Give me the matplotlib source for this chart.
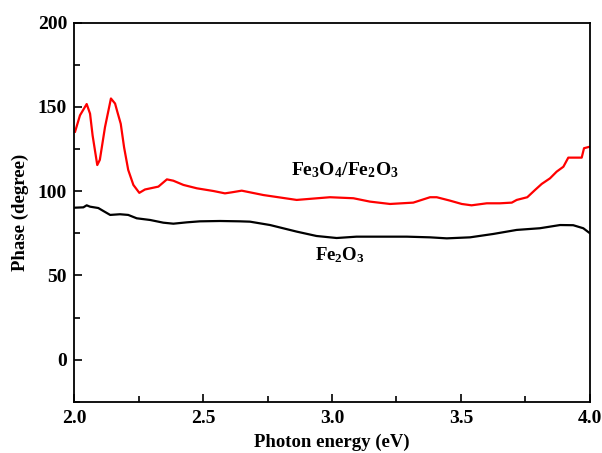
import matplotlib
matplotlib.use("Agg")
import matplotlib.pyplot as plt

plt.rcParams['font.family'] = ['Liberation Serif', 'DejaVu Serif']
plt.rcParams['font.weight'] = 'bold'
plt.rcParams['mathtext.fontset'] = 'custom'
plt.rcParams['mathtext.rm'] = 'Liberation Serif:bold'

# Fe3O4/Fe2O3 (red)
x_comp = [2.004, 2.023, 2.049, 2.062, 2.072, 2.09, 2.10, 2.12, 2.143, 2.159,
          2.168, 2.181, 2.194, 2.21, 2.23, 2.253, 2.275, 2.327, 2.36, 2.385,
          2.424, 2.476, 2.54, 2.585, 2.611, 2.65, 2.734, 2.863, 2.992, 3.083,
          3.147, 3.225, 3.315, 3.38, 3.406, 3.457, 3.503, 3.541, 3.60, 3.651,
          3.697, 3.716, 3.757, 3.787, 3.813, 3.845, 3.871, 3.897, 3.916, 3.968,
          3.977, 4.0]
y_comp = [135.3, 145, 151.7, 146, 133, 115.5, 118.6, 138, 155, 152,
          147, 140, 126, 112.6, 103.7, 99, 101, 102.7, 107, 106.2,
          103.7, 101.7, 100.1, 98.7, 99.3, 100.3, 97.7, 94.8, 96.4, 95.8,
          93.8, 92.4, 93.2, 96.4, 96.4, 94.4, 92.4, 91.6, 92.8, 92.8,
          93.2, 94.8, 96.4, 100.7, 104.3, 107.6, 111.6, 114.5, 119.9, 119.9,
          125.5, 126.4]

# Fe2O3 (black)
x_fe2o3 = [2.004, 2.036, 2.049, 2.062, 2.094, 2.114, 2.140, 2.178, 2.21, 2.243,
           2.295, 2.346, 2.385, 2.437, 2.488, 2.566, 2.643, 2.682, 2.76, 2.863,
           2.94, 3.018, 3.095, 3.186, 3.29, 3.38, 3.445, 3.535, 3.625, 3.716,
           3.806, 3.884, 3.935, 3.974, 4.0]
y_fe2o3 = [90.2, 90.4, 91.6, 90.8, 90, 88.2, 85.9, 86.3, 85.9, 83.9,
           82.9, 81.3, 80.7, 81.5, 82.1, 82.3, 82.1, 81.9, 79.9, 76,
           73.4, 72.2, 73, 73, 73, 72.6, 72, 72.6, 74.6, 77,
           78, 79.9, 79.8, 78, 75]

fig = plt.figure(figsize=(6.02, 4.53), dpi=100)
ax = fig.add_axes([0.123, 0.113, 0.857, 0.837])

ax.plot(x_comp, y_comp, color='red', lw=1.6)
ax.plot(x_fe2o3, y_fe2o3, color='black', lw=1.6)

ax.text(3.05, 112.5, r'$\mathregular{Fe_3O_4/Fe_2O_3}$', fontsize=14,
        ha='center', va='center')
ax.text(3.03, 62, r'$\mathregular{Fe_2O_3}$', fontsize=13.5,
        ha='center', va='center')

ax.set_xlim(2.0, 4.0)
ax.set_ylim(-25, 200)
ax.set_xticks([2.0, 2.5, 3.0, 3.5, 4.0])
ax.set_xticks([2.25, 2.75, 3.25, 3.75], minor=True)
ax.set_xticklabels(['2.0', '2.5', '3.0', '3.5', '4.0'])
ax.set_yticks([0, 50, 100, 150, 200])
ax.set_yticks([-25, 25, 75, 125, 175], minor=True)
ax.tick_params(which='both', direction='in', labelsize=14, width=1.2)
ax.tick_params(which='major', length=6)
ax.tick_params(which='minor', length=4.3)
ax.tick_params(axis='x', pad=6)
ax.tick_params(axis='y', pad=5)
for s in ax.spines.values():
    s.set_linewidth(1.3)

ax.set_xlabel('Photon energy (eV)', fontsize=13.5, fontweight='bold', labelpad=5)
ax.set_ylabel('Phase (degree)', fontsize=13.5, fontweight='bold', labelpad=6)

fig.savefig('out.png', dpi=100)
